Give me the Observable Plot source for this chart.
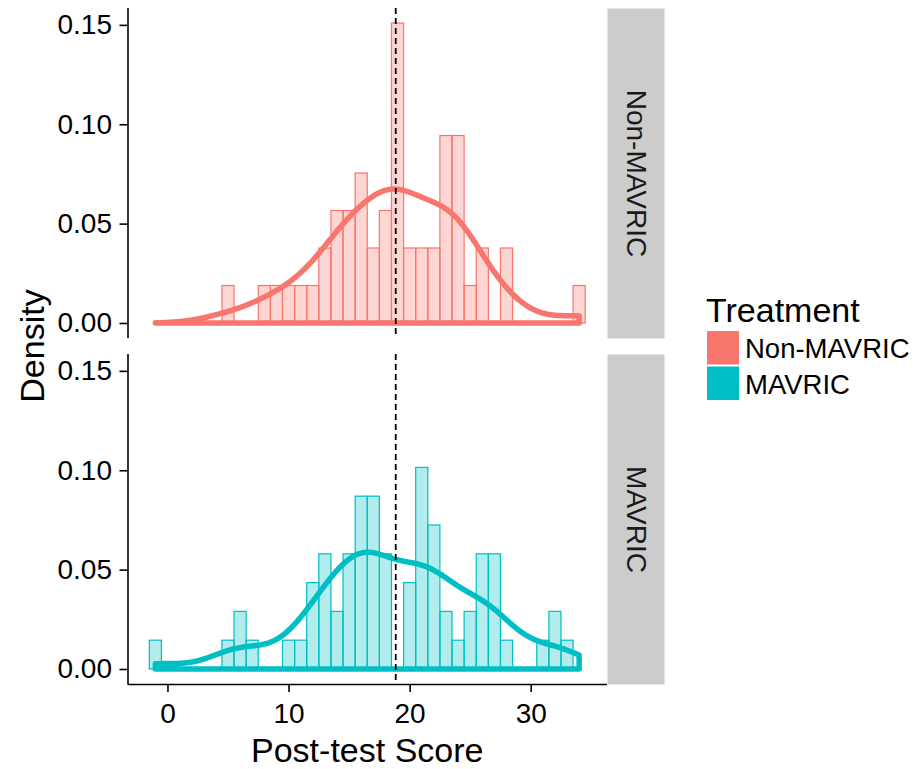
<!DOCTYPE html>
<html>
<head>
<meta charset="utf-8">
<script src="https://cdn.jsdelivr.net/npm/d3@7"></script>
<script src="https://cdn.jsdelivr.net/npm/@observablehq/plot@0.6"></script>
<style>
html, body { margin: 0; padding: 0; background: #fff; }
#wrap { position: relative; width: 917px; height: 769px; overflow: hidden; font-family: 'Liberation Sans', Arial, sans-serif; }
#wrap > svg { position: absolute; left: 0; top: 0; }
</style>
</head>
<body>
<div id="wrap"></div>
<script>
// ---- data ----
const treatments = ["Non-MAVRIC", "MAVRIC"];
const treatmentColors = ["#F8766D", "#00BFC4"];
const scoreBins = [-1, 0, 1, 2, 3, 4, 5, 6, 7, 8, 9, 10, 11, 12, 13, 14, 15, 16, 17, 18, 19, 20, 21, 22, 23, 24, 25, 26, 27, 28, 29, 30, 31, 32, 33, 34];
const nonMavricCounts = [0, 0, 0, 0, 0, 0, 1, 0, 0, 1, 1, 1, 1, 1, 2, 3, 3, 4, 2, 3, 8, 2, 2, 2, 5, 5, 1, 2, 0, 2, 0, 0, 0, 0, 0, 1];
const mavricCounts    = [1, 0, 0, 0, 0, 0, 1, 2, 1, 0, 0, 1, 1, 3, 4, 2, 4, 6, 6, 4, 0, 3, 7, 5, 2, 1, 2, 4, 4, 1, 0, 0, 1, 2, 1, 0];
const xTicks = [0, 10, 20, 30];
const yTicks = [0, 0.05, 0.10, 0.15];
const axisTitleX = "Post-test Score";
const axisTitleY = "Density";
const legendTitle = "Treatment";
const binWidth = 1;

// ---- derived tables ----
const countsBy = {"Non-MAVRIC": nonMavricCounts, "MAVRIC": mavricCounts};
const hist = [];
const samples = {};
for (const t of treatments) {
  const counts = countsBy[t];
  const n = d3.sum(counts);
  samples[t] = [];
  scoreBins.forEach((s, i) => {
    for (let k = 0; k < counts[i]; k++) samples[t].push(s);
    if (counts[i] > 0) hist.push({treatment: t, x1: s - binWidth / 2, x2: s + binWidth / 2, density: counts[i] / (n * binWidth)});
  });
}
const allScores = treatments.flatMap(t => samples[t]);
const meanScore = d3.mean(allScores);
const [sMin, sMax] = d3.extent(allScores);

function bwNrd0(v) {
  const s = d3.sort(v);
  const sd = d3.deviation(s);
  const iqr = d3.quantile(s, 0.75) - d3.quantile(s, 0.25);
  const lo = Math.min(sd, iqr / 1.34);
  return 0.9 * lo * Math.pow(s.length, -0.2);
}
const dens = [];
for (const t of treatments) {
  const v = samples[t], h = bwNrd0(v), n = v.length;
  for (let i = 0; i < 512; i++) {
    const x = sMin + (sMax - sMin) * i / 511;
    const y = d3.sum(v, s => Math.exp(-0.5 * ((x - s) / h) ** 2)) / (n * h * Math.sqrt(2 * Math.PI));
    dens.push({treatment: t, x, y});
  }
}

const hx0 = d3.min(hist, d => d.x1), hx1 = d3.max(hist, d => d.x2);
const xPad = (hx1 - hx0) * 0.05;
const xDomain = [hx0 - xPad, hx1 + xPad];
const yMaxData = d3.max(hist, d => d.density);
const yDomain = [-yMaxData * 0.05, yMaxData * 1.05];

// ---- layout ----
const W = 917, H = 769, mL = 127.5, mR = 310, mT = 8, mB = 85, facetGap = 16, stripW = 57;
const panelW = W - mL - mR;
const bandH = (H - mT - mB - facetGap) / 2;

const plot = Plot.plot({
  width: W, height: H,
  marginLeft: mL, marginRight: mR, marginTop: mT, marginBottom: mB,
  style: {fontFamily: "'Liberation Sans', Arial, sans-serif", color: "#000", background: "transparent"},
  x: {domain: xDomain},
  y: {domain: yDomain},
  fy: {domain: treatments, paddingInner: facetGap / (bandH + facetGap), paddingOuter: 0, axis: null, label: null, round: false},
  color: {domain: treatments, range: treatmentColors},
  marks: [
    Plot.frame({fill: "#CCCCCC", stroke: "none", insetLeft: panelW, insetRight: -stripW}),
    Plot.text(treatments, {fy: d => d, text: d => d, frameAnchor: "right", textAnchor: "middle", dx: stripW / 2, rotate: 90, fontSize: 28, fill: "#1A1A1A"}),
    Plot.rectY(hist, {x1: "x1", x2: "x2", y: "density", fy: "treatment", fill: "treatment", fillOpacity: 0.3, stroke: "treatment", strokeWidth: 1.2}),
    Plot.areaY(dens, {x: "x", y: "y", fy: "treatment", z: "treatment", stroke: "treatment", fill: "none", strokeWidth: 5.5, strokeLinejoin: "round"}),
    Plot.ruleX([meanScore], {stroke: "#000", strokeWidth: 1.8, strokeDasharray: "6,4"}),
    Plot.ruleX([xDomain[0]], {stroke: "#000", strokeWidth: 1.6}),
    Plot.ruleY([{treatment: "MAVRIC", y: yDomain[0]}], {y: "y", fy: "treatment", stroke: "#000", strokeWidth: 1.6}),
    Plot.axisY({ticks: yTicks, tickFormat: d3.format(".2f"), tickSize: 8, tickPadding: 8, fontSize: 28, label: null, strokeWidth: 1.6}),
    Plot.axisX({ticks: xTicks, tickSize: 8, tickPadding: 11, fontSize: 28, label: null, strokeWidth: 1.6, facetAnchor: "bottom"})
  ]
});
const wrap = document.getElementById("wrap");
wrap.appendChild(plot);

// ---- titles & legend overlay ----
const color = plot.scale("color");
const ov = d3.create("svg").attr("width", W).attr("height", H)
  .style("font-family", "'Liberation Sans', Arial, sans-serif").style("pointer-events", "none");
ov.append("text").attr("x", mL + panelW / 2).attr("y", 762).attr("text-anchor", "middle")
  .attr("font-size", 34).attr("fill", "#000").text(axisTitleX);
ov.append("text").attr("transform", `translate(44,${mT + (H - mT - mB) / 2}) rotate(-90)`)
  .attr("text-anchor", "middle").attr("font-size", 34).attr("fill", "#000").text(axisTitleY);
ov.append("text").attr("x", 706).attr("y", 321.5).attr("font-size", 34).attr("fill", "#000").text(legendTitle);
color.domain.forEach((t, i) => {
  const y0 = 331 + i * 35.5;
  ov.append("rect").attr("x", 707).attr("y", y0).attr("width", 32).attr("height", 33.5).attr("fill", color.range[i]);
  ov.append("text").attr("x", 745).attr("y", y0 + 27).attr("font-size", 27.5).attr("fill", "#000").text(t);
});
wrap.appendChild(ov.node());
</script>
</body>
</html>
